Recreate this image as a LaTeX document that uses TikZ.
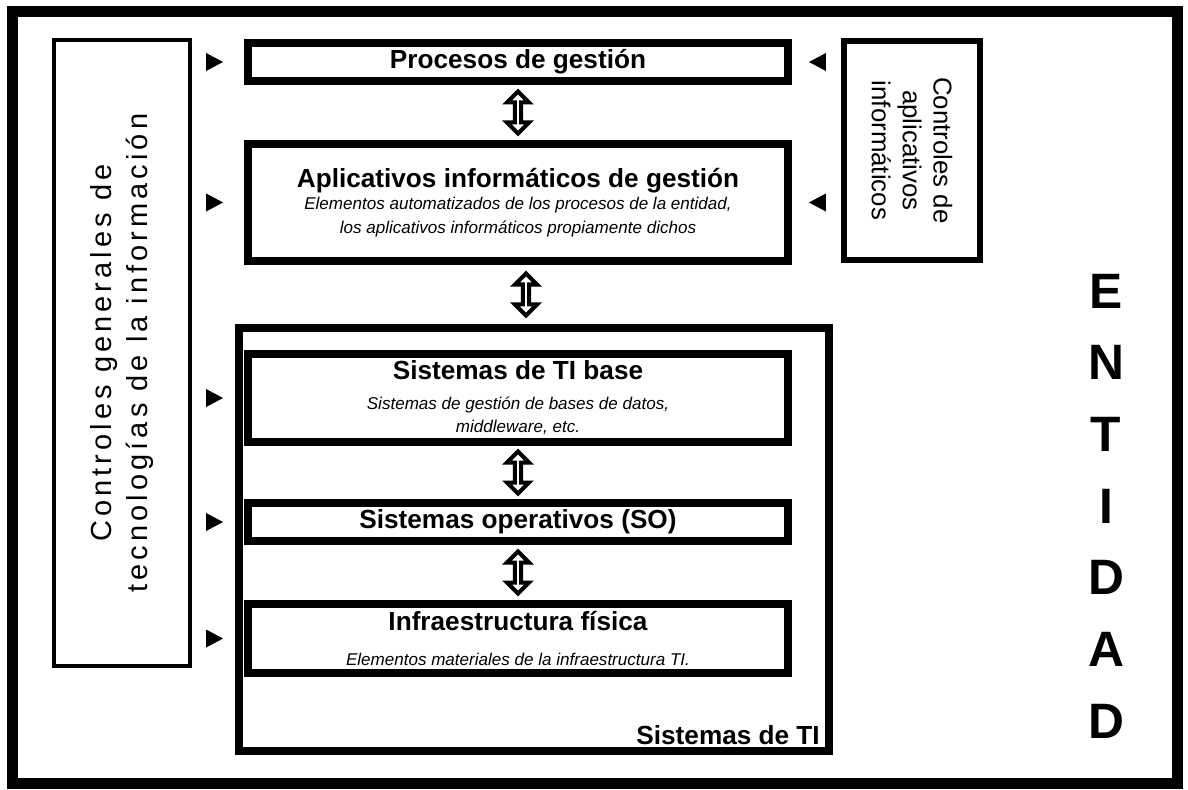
\documentclass[tikz,border=0pt]{standalone}
\usepackage{fontspec}
\setmainfont{Liberation Sans}
\usepackage{tikz}
\usetikzlibrary{shapes,arrows}
\usetikzlibrary{positioning}
\usetikzlibrary{calc}
\newcommand{\tit}[1]{{\fontsize{14.9}{17}\selectfont\bfseries\upshape #1}}
\begin{document}
\begin{tikzpicture}[node distance=1.1cm,
  capa/.style={draw,line width=0.16cm,minimum width=10.8cm,inner sep=0pt,align=center,
    font=\fontsize{9.7}{13.6}\selectfont\itshape},
  flecha/.style={double arrow,draw,line width=0.08cm,fill=white,rotate=90,inner sep=0pt,
    minimum height=0.84cm,minimum width=0.44cm,double arrow head extend=0.1cm},
  tri/.style={isosceles triangle,isosceles triangle stretches,fill,inner sep=0pt,
    minimum width=0.36cm,minimum height=0.34cm}]
\path[use as bounding box] (0,0) rectangle (23.76,15.78);
\path[draw,line width=0.22cm] (0.25,0.12) rectangle (23.55,15.54);
%controles
\path node[draw,line width=0.08cm,rotate=90,minimum width=12.52cm,minimum height=2.72cm,align=center,
  font=\fontsize{16.5}{21}\selectfont\addfontfeature{LetterSpace=14}] (ctrlgen) at (2.44,8.72)
  {Controles generales de\\tecnologías de la información};
\path node[draw,line width=0.12cm,rotate=-90,minimum width=4.38cm,minimum height=2.72cm,align=center,
  font=\fontsize{14.7}{17.6}\selectfont] (ctrlapl) at (18.24,12.77)
  {Controles de\\aplicativos\\informáticos};
%capas
\path node[draw,line width=0.16cm,minimum width=11.8cm,minimum height=8.46cm] (sisti) at (10.68,4.99) {};
\path node[anchor=east] (rotti) at ($(sisti.south east)+(-0.14,0.4)$) {\tit{Sistemas de TI}};
\path node[capa,minimum height=0.76cm] (proc) at (10.36,14.54) {\tit{Procesos de gestión}};
\path node[capa,minimum height=2.34cm,below=of proc] (apl) {\tit{Aplicativos informáticos de gestión}\\[-1pt]
  Elementos automatizados de los procesos de la entidad,\\los aplicativos informáticos propiamente dichos};
\path node[capa,minimum height=1.76cm,below=1.7cm of apl] (tibase) {\tit{Sistemas de TI base}\\[3pt]
  Sistemas de gestión de bases de datos,\\middleware, etc.};
\path node[capa,minimum height=0.76cm,below=1.06cm of tibase] (so) {\tit{Sistemas operativos (SO)}};
\path node[capa,minimum height=1.38cm,below=of so] (infra) {\tit{Infraestructura física}\\[6pt]
  Elementos materiales de la infraestructura TI.};
%flechas
\path node[flecha] (f1) at ($(proc.south)!0.5!(apl.north)$) {};
\path node[flecha] (f2) at ($(apl.south)!0.5!(sisti.north)$) {};
\path node[flecha] (f3) at ($(tibase.south)!0.5!(so.north)$) {};
\path node[flecha] (f4) at ($(so.south)!0.5!(infra.north)$) {};
%triangulos
\path node[tri,left=0.4cm of proc] (tg1) {};
\path node[tri,left=0.4cm of apl] (tg2) {};
\path node[tri,left=0.4cm of tibase] (tg3) {};
\path node[tri,left=0.4cm of so] (tg4) {};
\path node[tri,left=0.4cm of infra] (tg5) {};
\path node[tri,shape border rotate=180,right=0.32cm of proc] (ta1) {};
\path node[tri,shape border rotate=180,right=0.32cm of apl] (ta2) {};
%entidad
\path node[align=center,font=\fontsize{28.3}{40.8}\selectfont\bfseries] (ent) at (22.12,5.66) {E\\N\\T\\I\\D\\A\\D};
\end{tikzpicture}
\end{document}
